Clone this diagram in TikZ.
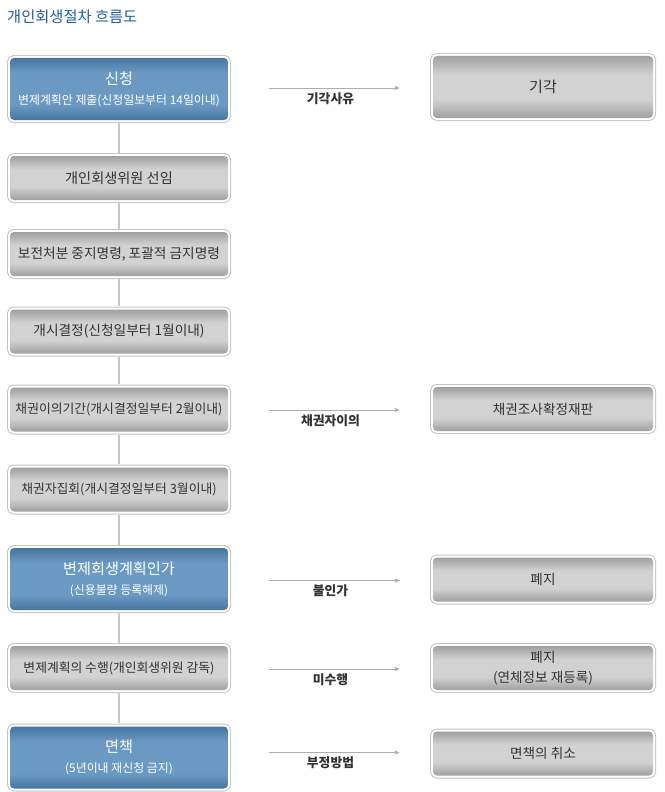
\documentclass[tikz,border=0pt]{standalone}
\usepackage{fontspec}
\setmainfont{Noto Sans CJK KR}
\usetikzlibrary{arrows.meta,shadows}
\definecolor{titleblue}{HTML}{1F5C9C}
\definecolor{gEdge}{HTML}{A0A0A0}
\definecolor{gMid}{HTML}{D2D2D2}
\definecolor{bEdge}{HTML}{46769F}
\definecolor{bMid}{HTML}{6A9AC4}
\definecolor{frameC}{HTML}{C4C4C4}
\definecolor{connC}{HTML}{C8C8C8}
\definecolor{arrC}{HTML}{AEAEAE}
\definecolor{txtG}{HTML}{333333}
\pgfdeclareverticalshading{grayglass}{100bp}{color(0bp)=(gEdge); color(25bp)=(gEdge); color(40bp)=(gMid); color(60bp)=(gMid); color(75bp)=(gEdge); color(100bp)=(gEdge)}
\pgfdeclareverticalshading{blueglass}{100bp}{color(0bp)=(bEdge); color(25bp)=(bEdge); color(37bp)=(bMid); color(63bp)=(bMid); color(75bp)=(bEdge); color(100bp)=(bEdge)}
\tikzset{
  boxbase/.style={rounded corners=4pt, inner sep=0pt, align=center,
    preaction={drop shadow={opacity=0.12, shadow xshift=1pt, shadow yshift=-1.5pt}},
    preaction={draw=frameC, line width=6pt},
    preaction={draw=white, line width=4pt}},
  graybox/.style={boxbase, shading=grayglass, text=txtG,
    font=\fontsize{13.7}{20}\selectfont},
  bluebox/.style={boxbase, shading=blueglass, text=white,
    font=\fontsize{11.9}{20}\selectfont},
  leftw/.style={minimum width=218pt},
  rightw/.style={minimum width=220pt},
  tallbox/.style={minimum height=62pt},
  shortbox/.style={minimum height=44pt},
  conn/.style={draw=connC, line width=1.5pt, shorten <=3pt, shorten >=3pt},
  arr/.style={draw=arrC, line width=0.9pt, -{Triangle[length=5pt,width=4pt]},
    shorten <=41pt, shorten >=33pt},
  arrlabel/.style={font=\fontsize{12.8}{14}\selectfont\bfseries, text=txtG, below=4pt, midway, inner sep=0pt}
}
\begin{document}
\begin{tikzpicture}[x=1pt,y=-1pt]
\useasboundingbox (0,0) rectangle (664,792);
\node[anchor=west, text=titleblue, font=\fontsize{15.3}{17}\selectfont, inner sep=0pt] (title) at (7,17) {개인회생절차 흐름도};

% left column
\node[bluebox, leftw, tallbox] (b1) at (119,89) {{\fontsize{15.2}{20}\selectfont 신청}\\변제계획안 제출(신청일보부터 14일이내)};
\node[graybox, leftw, shortbox, font=\fontsize{14.2}{20}\selectfont] (b2) at (119,178) {개인회생위원 선임};
\node[graybox, leftw, shortbox] (b3) at (119,254) {보전처분 중지명령, 포괄적 금지명령};
\node[graybox, leftw, shortbox] (b4) at (119,331.5) {개시결정(신청일부터 1월이내)};
\node[graybox, leftw, shortbox, font=\fontsize{12.8}{20}\selectfont] (b5) at (119,409.5) {채권이의기간(개시결정일부터 2월이내)};
\node[graybox, leftw, shortbox, font=\fontsize{12.8}{20}\selectfont] (b6) at (119,489.5) {채권자집회(개시결정일부터 3월이내)};
\node[bluebox, leftw, tallbox] (b7) at (119,579) {{\fontsize{15.2}{20}\selectfont 변제회생계획인가}\\(신용불량 등록해제)};
\node[graybox, leftw, shortbox, font=\fontsize{12.8}{20}\selectfont] (b8) at (119,668) {변제계획의 수행(개인회생위원 감독)};
\node[bluebox, leftw, tallbox] (b9) at (119,757.5) {{\fontsize{15.2}{20}\selectfont 면책}\\(5년이내 재신청 금지)};

% right column
\node[graybox, rightw, tallbox, font=\fontsize{15}{20}\selectfont] (r1) at (543,87) {기각};
\node[graybox, rightw, shortbox, font=\fontsize{13.6}{20}\selectfont] (r2) at (543,409) {채권조사확정재판};
\node[graybox, rightw, shortbox, font=\fontsize{13.6}{20}\selectfont] (r3) at (543,579.5) {폐지};
\node[graybox, rightw, shortbox, font=\fontsize{13.6}{20}\selectfont] (r4) at (543,668) {폐지\\(연체정보 재등록)};
\node[graybox, rightw, shortbox, font=\fontsize{13.6}{20}\selectfont] (r5) at (543,753.5) {면책의 취소};

% vertical connectors
\draw[conn] (b1) -- (b2);
\draw[conn] (b2) -- (b3);
\draw[conn] (b3) -- (b4);
\draw[conn] (b4) -- (b5);
\draw[conn] (b5) -- (b6);
\draw[conn] (b6) -- (b7);
\draw[conn] (b7) -- (b8);
\draw[conn] (b8) -- (b9);

% arrows
\draw[arr] ([yshift=-1pt]b1.east |- r1.west) -- ([yshift=-1pt]r1.west) node[arrlabel] (l1) {기각사유};
\draw[arr] ([yshift=-1pt]b5.east |- r2.west) -- ([yshift=-1pt]r2.west) node[arrlabel] (l2) {채권자이의};
\draw[arr] ([yshift=-1pt]b7.east |- r3.west) -- ([yshift=-1pt]r3.west) node[arrlabel] (l3) {불인가};
\draw[arr] ([yshift=-1pt]b8.east |- r4.west) -- ([yshift=-1pt]r4.west) node[arrlabel] (l4) {미수행};
\draw[arr] ([yshift=1pt]b9.east |- r5.west) -- ([yshift=1pt]r5.west) node[arrlabel] (l5) {부정방법};
\end{tikzpicture}
\end{document}
